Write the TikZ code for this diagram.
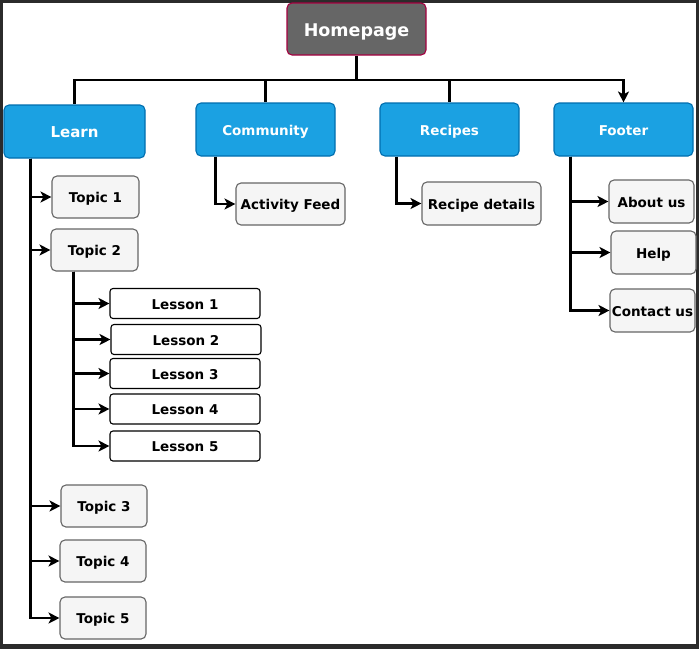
\documentclass[tikz,border=0pt]{standalone}
\usepackage{fontspec}
\setmainfont{DejaVu Sans}
\usetikzlibrary{arrows.meta,calc}

\definecolor{framegray}{HTML}{2B2B2B}
\definecolor{homegray}{HTML}{666666}
\definecolor{homeborder}{HTML}{A50040}
\definecolor{sectblue}{HTML}{1BA1E2}
\definecolor{sectborder}{HTML}{006EAF}
\definecolor{leaffill}{HTML}{F5F5F5}
\definecolor{leafborder}{HTML}{666666}

\begin{document}
\begin{tikzpicture}
  [x=1pt,y=-1pt,
  box/.style={rounded corners=5,line width=1.1,inner sep=0,text height=11.5pt,text depth=0pt,
    font=\bfseries\fontsize{13.5}{16}\selectfont},
  home/.style={box,fill=homegray,draw=homeborder,text=white,text height=15.5pt,
    minimum width=139,minimum height=52,font=\bfseries\fontsize{17.5}{20}\selectfont},
  sect/.style={box,fill=sectblue,draw=sectborder,text=white,minimum width=139,minimum height=53},
  leaf/.style={box,fill=leaffill,draw=leafborder,minimum height=42},
  lesson/.style={box,rounded corners=3,fill=white,draw=black,minimum width=150,minimum height=30},
  bus/.style={line width=2.2},
  link/.style={line width=2.2,-{Stealth[length=11,width=11,inset=3]}}]

  % frame
  \fill[framegray] (0,0) rectangle (699,649);
  \fill[white] (3,3) rectangle (696,644);

  % top level
  \node[home] (home) at (356.5,29) {Homepage};

  \node[sect,minimum width=141,text height=12.5pt,font=\bfseries\fontsize{15}{18}\selectfont] (learn) at (74.5,131.5) {Learn};
  \node[sect] (community) at (265.5,129.5) {Community};
  \node[sect] (recipes) at (449.5,129.5) {Recipes};
  \node[sect] (footer) at (623.5,129.5) {Footer};

  \coordinate (hub) at (356.5,80);
  \draw[bus] (home.south) -- (hub);
  \draw[bus] (hub) -| (learn.north);
  \draw[bus] (hub) -| (community.north);
  \draw[bus] (hub) -| (recipes.north);
  \draw[link] (hub) -| (footer.north);

  % learn
  \node[leaf,minimum width=87] (topic1) at (95.5,197) {Topic 1};
  \node[leaf,minimum width=87] (topic2) at (94.5,250) {Topic 2};
  \node[leaf,minimum width=86] (topic3) at (104,506) {Topic 3};
  \node[leaf,minimum width=86] (topic4) at (103,561) {Topic 4};
  \node[leaf,minimum width=86] (topic5) at (103,618) {Topic 5};

  \coordinate (lt) at ([xshift=27]learn.south west);
  \draw[link] (lt) |- (topic1.west);
  \draw[link] (lt) |- (topic2.west);
  \draw[link] (lt) |- (topic3.west);
  \draw[link] (lt) |- (topic4.west);
  \draw[link] (lt) |- (topic5.west);

  \node[lesson] (lesson1) at (185,303.5) {Lesson 1};
  \node[lesson] (lesson2) at (186,339.5) {Lesson 2};
  \node[lesson] (lesson3) at (185,373.5) {Lesson 3};
  \node[lesson] (lesson4) at (185,409) {Lesson 4};
  \node[lesson] (lesson5) at (185,446) {Lesson 5};

  \coordinate (tt) at ([xshift=23]topic2.south west);
  \foreach \i in {1,...,5}
    \draw[link] (tt) |- (lesson\i.west);

  % community, recipes
  \node[leaf,minimum width=109] (feed) at (290.5,204) {Activity Feed};
  \node[leaf,minimum width=119,minimum height=43] (details) at (481.5,203.5) {Recipe details};

  \draw[link] ([xshift=20]community.south west) |- (feed.west);
  \draw[link] ([xshift=17]recipes.south west) |- (details.west);

  % footer
  \node[leaf,minimum width=85,minimum height=43] (about) at (651.5,201.5) {About us};
  \node[leaf,minimum width=85,minimum height=43] (help) at (653.5,252.5) {Help};
  \node[leaf,minimum width=85,minimum height=43] (contact) at (652.5,310.5) {Contact us};

  \coordinate (ft) at ([xshift=17]footer.south west);
  \draw[link] (ft) |- (about.west);
  \draw[link] (ft) |- (help.west);
  \draw[link] (ft) |- (contact.west);

\end{tikzpicture}
\end{document}
